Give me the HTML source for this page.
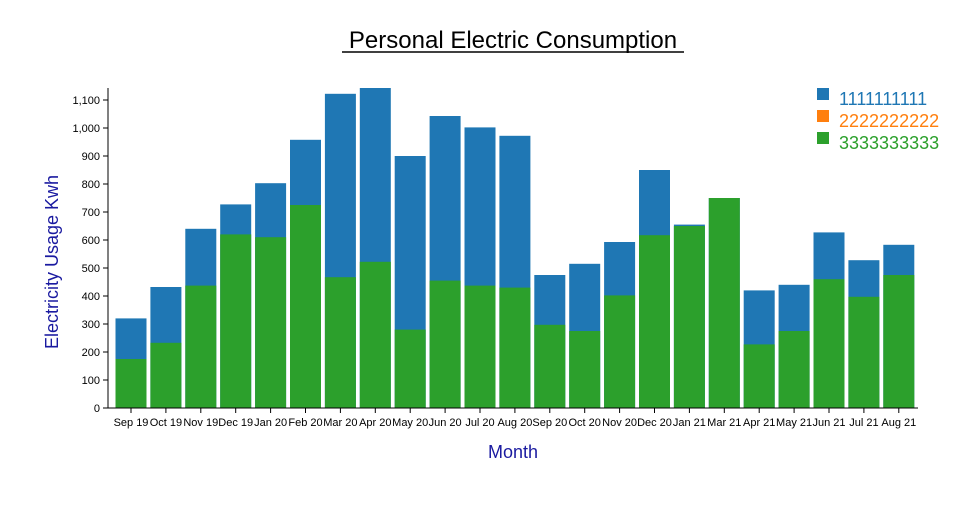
<!DOCTYPE html>
<html><head><style>
body{margin:0;background:#fff;}
svg text{font-family:"Liberation Sans",sans-serif;}
</style></head><body>
<svg width="960" height="500" xmlns="http://www.w3.org/2000/svg">
<text x="513" y="48" text-anchor="middle" font-size="24" fill="#000">Personal Electric Consumption</text>
<line x1="342" y1="52" x2="684" y2="52" stroke="#000" stroke-width="1.5"/>
<g fill="#1f77b4">
<rect x="115.5" y="318.4" width="31" height="89.6"/>
<rect x="150.4" y="287" width="31" height="121"/>
<rect x="185.3" y="228.8" width="31" height="179.2"/>
<rect x="220.2" y="204.4" width="31" height="203.6"/>
<rect x="255.1" y="183.2" width="31" height="224.8"/>
<rect x="290" y="139.8" width="31" height="268.2"/>
<rect x="324.9" y="93.8" width="31" height="314.2"/>
<rect x="359.8" y="88" width="31" height="320"/>
<rect x="394.7" y="156" width="31" height="252"/>
<rect x="429.6" y="116" width="31" height="292"/>
<rect x="464.5" y="127.4" width="31" height="280.6"/>
<rect x="499.4" y="135.8" width="31" height="272.2"/>
<rect x="534.3" y="275" width="31" height="133"/>
<rect x="569.2" y="263.8" width="31" height="144.2"/>
<rect x="604.1" y="242" width="31" height="166"/>
<rect x="639" y="170" width="31" height="238"/>
<rect x="673.9" y="224.6" width="31" height="183.4"/>
<rect x="708.8" y="198" width="31" height="210"/>
<rect x="743.7" y="290.4" width="31" height="117.6"/>
<rect x="778.6" y="284.8" width="31" height="123.2"/>
<rect x="813.5" y="232.4" width="31" height="175.6"/>
<rect x="848.4" y="260.2" width="31" height="147.8"/>
<rect x="883.3" y="244.8" width="31" height="163.2"/>
</g>
<g fill="#2ca02c">
<rect x="115.5" y="359" width="31" height="49"/>
<rect x="150.4" y="342.8" width="31" height="65.2"/>
<rect x="185.3" y="285.6" width="31" height="122.4"/>
<rect x="220.2" y="234.4" width="31" height="173.6"/>
<rect x="255.1" y="237.2" width="31" height="170.8"/>
<rect x="290" y="205" width="31" height="203"/>
<rect x="324.9" y="277.2" width="31" height="130.8"/>
<rect x="359.8" y="261.8" width="31" height="146.2"/>
<rect x="394.7" y="329.6" width="31" height="78.4"/>
<rect x="429.6" y="280.6" width="31" height="127.4"/>
<rect x="464.5" y="285.6" width="31" height="122.4"/>
<rect x="499.4" y="287.6" width="31" height="120.4"/>
<rect x="534.3" y="324.8" width="31" height="83.2"/>
<rect x="569.2" y="331" width="31" height="77"/>
<rect x="604.1" y="295.4" width="31" height="112.6"/>
<rect x="639" y="235.2" width="31" height="172.8"/>
<rect x="673.9" y="226" width="31" height="182"/>
<rect x="708.8" y="198" width="31" height="210"/>
<rect x="743.7" y="344.4" width="31" height="63.6"/>
<rect x="778.6" y="331" width="31" height="77"/>
<rect x="813.5" y="279.2" width="31" height="128.8"/>
<rect x="848.4" y="296.8" width="31" height="111.2"/>
<rect x="883.3" y="275" width="31" height="133"/>
</g>
<line x1="108" y1="88" x2="108" y2="408" stroke="#000"/>
<line x1="108" y1="408" x2="918" y2="408" stroke="#000"/>
<g stroke="#000">
<line x1="103" y1="408" x2="108" y2="408"/><line x1="103" y1="380" x2="108" y2="380"/><line x1="103" y1="352" x2="108" y2="352"/><line x1="103" y1="324" x2="108" y2="324"/><line x1="103" y1="296" x2="108" y2="296"/><line x1="103" y1="268" x2="108" y2="268"/><line x1="103" y1="240" x2="108" y2="240"/><line x1="103" y1="212" x2="108" y2="212"/><line x1="103" y1="184" x2="108" y2="184"/><line x1="103" y1="156" x2="108" y2="156"/><line x1="103" y1="128" x2="108" y2="128"/><line x1="103" y1="100" x2="108" y2="100"/>
<line x1="131" y1="408" x2="131" y2="413"/><line x1="165.9" y1="408" x2="165.9" y2="413"/><line x1="200.8" y1="408" x2="200.8" y2="413"/><line x1="235.7" y1="408" x2="235.7" y2="413"/><line x1="270.6" y1="408" x2="270.6" y2="413"/><line x1="305.5" y1="408" x2="305.5" y2="413"/><line x1="340.4" y1="408" x2="340.4" y2="413"/><line x1="375.3" y1="408" x2="375.3" y2="413"/><line x1="410.2" y1="408" x2="410.2" y2="413"/><line x1="445.1" y1="408" x2="445.1" y2="413"/><line x1="480" y1="408" x2="480" y2="413"/><line x1="514.9" y1="408" x2="514.9" y2="413"/><line x1="549.8" y1="408" x2="549.8" y2="413"/><line x1="584.7" y1="408" x2="584.7" y2="413"/><line x1="619.6" y1="408" x2="619.6" y2="413"/><line x1="654.5" y1="408" x2="654.5" y2="413"/><line x1="689.4" y1="408" x2="689.4" y2="413"/><line x1="724.3" y1="408" x2="724.3" y2="413"/><line x1="759.2" y1="408" x2="759.2" y2="413"/><line x1="794.1" y1="408" x2="794.1" y2="413"/><line x1="829" y1="408" x2="829" y2="413"/><line x1="863.9" y1="408" x2="863.9" y2="413"/><line x1="898.8" y1="408" x2="898.8" y2="413"/>
</g>
<g font-size="11" fill="#000" text-anchor="end">
<text x="100" y="412">0</text><text x="100" y="384">100</text><text x="100" y="356">200</text><text x="100" y="328">300</text><text x="100" y="300">400</text><text x="100" y="272">500</text><text x="100" y="244">600</text><text x="100" y="216">700</text><text x="100" y="188">800</text><text x="100" y="160">900</text><text x="100" y="132">1,000</text><text x="100" y="104">1,100</text>
</g>
<g font-size="11" fill="#000" text-anchor="middle">
<text x="131" y="426">Sep 19</text><text x="165.9" y="426">Oct 19</text><text x="200.8" y="426">Nov 19</text><text x="235.7" y="426">Dec 19</text><text x="270.6" y="426">Jan 20</text><text x="305.5" y="426">Feb 20</text><text x="340.4" y="426">Mar 20</text><text x="375.3" y="426">Apr 20</text><text x="410.2" y="426">May 20</text><text x="445.1" y="426">Jun 20</text><text x="480" y="426">Jul 20</text><text x="514.9" y="426">Aug 20</text><text x="549.8" y="426">Sep 20</text><text x="584.7" y="426">Oct 20</text><text x="619.6" y="426">Nov 20</text><text x="654.5" y="426">Dec 20</text><text x="689.4" y="426">Jan 21</text><text x="724.3" y="426">Mar 21</text><text x="759.2" y="426">Apr 21</text><text x="794.1" y="426">May 21</text><text x="829" y="426">Jun 21</text><text x="863.9" y="426">Jul 21</text><text x="898.8" y="426">Aug 21</text>
</g>
<text transform="translate(58,262) rotate(-90)" text-anchor="middle" font-size="18" fill="#1a1aa0">Electricity Usage Kwh</text>
<text x="513" y="458" text-anchor="middle" font-size="18" fill="#1a1aa0">Month</text>
<rect x="817" y="88" width="12" height="12" fill="#1f77b4"/>
<text x="839" y="105" font-size="18" fill="#1f77b4">1111111111</text>
<rect x="817" y="110" width="12" height="12" fill="#ff7f0e"/>
<text x="839" y="127" font-size="18" fill="#ff7f0e">2222222222</text>
<rect x="817" y="132" width="12" height="12" fill="#2ca02c"/>
<text x="839" y="149" font-size="18" fill="#2ca02c">3333333333</text>
</svg>
</body></html>
